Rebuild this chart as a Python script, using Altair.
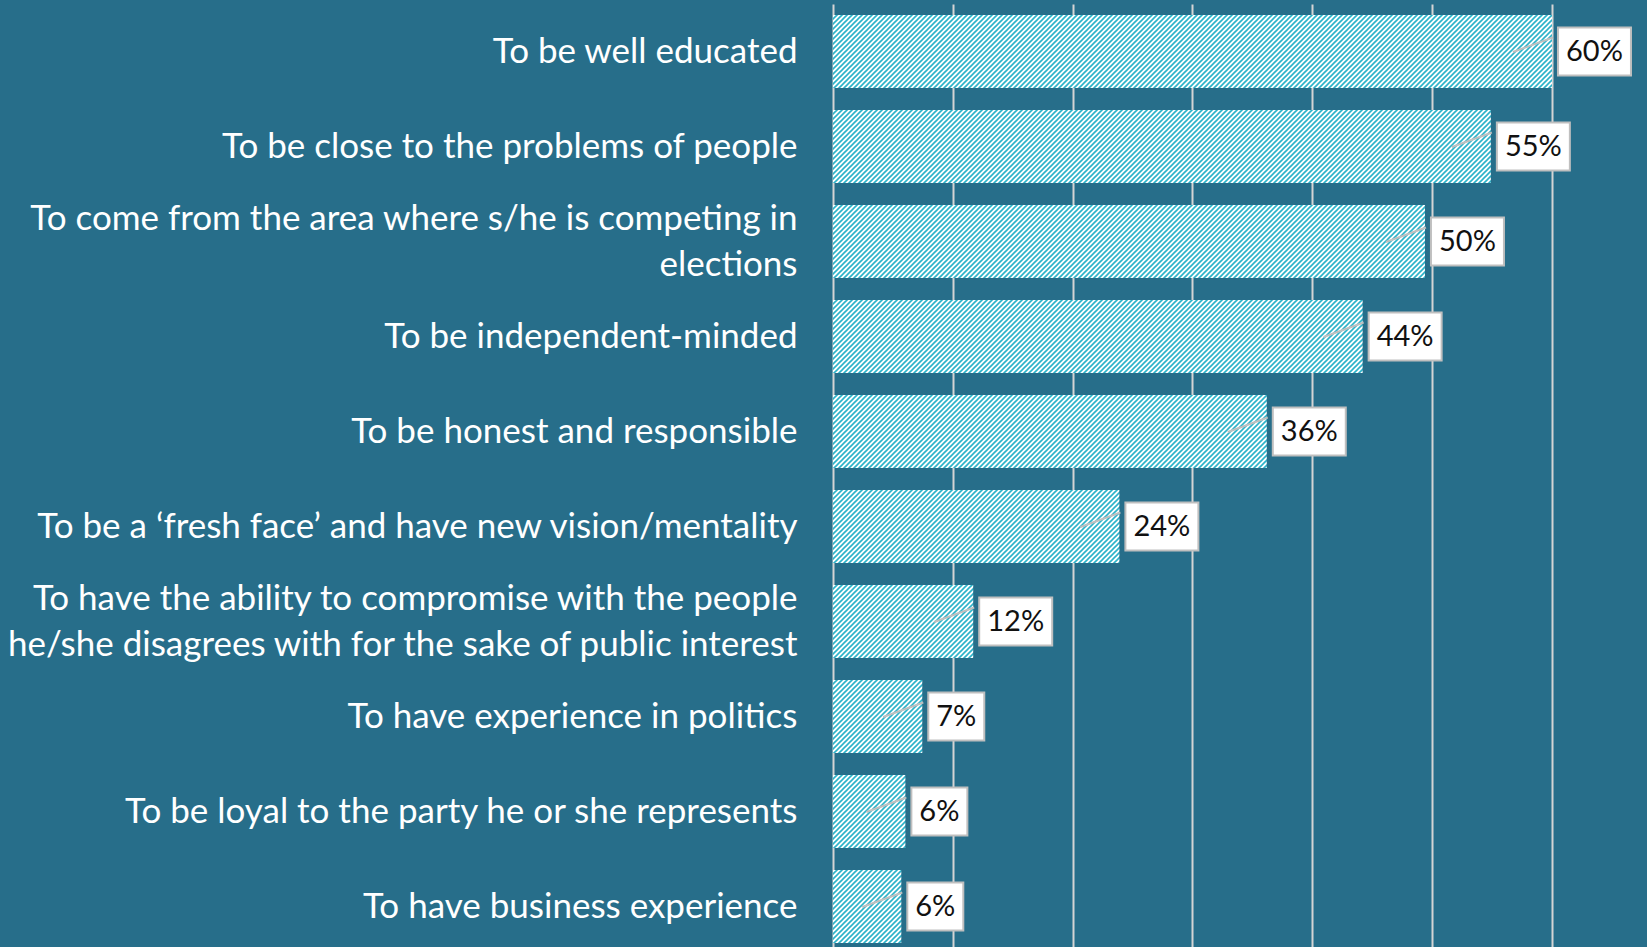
import altair as alt
import pandas as pd

categories = [
    "To be well educated",
    "To be close to the problems of people",
    "To come from the area where s/he is competing in\nelections",
    "To be independent-minded",
    "To be honest and responsible",
    "To be a \u2018fresh face\u2019 and have new vision/mentality",
    "To have the ability to compromise with the people\nhe/she disagrees with for the sake of public interest",
    "To have experience in politics",
    "To be loyal to the party he or she represents",
    "To have business experience",
]
values = [0.600, 0.549, 0.494, 0.442, 0.362, 0.239, 0.117, 0.0745, 0.0604, 0.057]
value_labels = ["60%", "55%", "50%", "44%", "36%", "24%", "12%", "7%", "6%", "6%"]
grid_ticks = [0, 0.1, 0.2, 0.3, 0.4, 0.5, 0.6]

BG = "#276E8A"
GRID = "#D4D4D4"
BOX_STROKE = "#BFBFBF"

df = pd.DataFrame({"cat": categories, "value": values, "label": value_labels})
df["digits"] = df["label"].str.len()

y_main = alt.Y(
    "cat:N",
    sort=categories,
    bandPosition=0.5,
    scale=alt.Scale(paddingInner=0.23, paddingOuter=0.115),
    axis=alt.Axis(
        title=None,
        labelExpr="split(datum.label, '\\n')",
        labelOffset={"expr": "indexof(datum.value, '\\n') >= 0 ? -23 : 0"},
        labelFont="Lato",
        labelFontSize=35,
        labelColor="white",
        labelPadding=36,
        labelLimit=2000,
        labelLineHeight=46,
        labelAlign="right",
        labelBaseline="middle",
        ticks=False,
        domain=False,
        grid=False,
    ),
)
x_main = alt.X(
    "value:Q",
    scale=alt.Scale(domain=[0, 0.6793], nice=False, zero=True),
    axis=alt.Axis(
        values=grid_ticks,
        labels=False,
        ticks=False,
        domain=False,
        grid=True,
        gridColor=GRID,
        gridWidth=2,
        title=None,
    ),
)
y_plain = alt.Y("cat:N", sort=categories, bandPosition=0.5)
x_plain = alt.X("value:Q")

base = alt.Chart(df)

bars = base.mark_bar(fill="url(#hatch) #C3E9EF").encode(x=x_main, y=y_main)

leaders = base.mark_rule(
    color=BOX_STROKE, strokeWidth=2, xOffset=-39, x2Offset=1, yOffset=0.5, y2Offset=-14
).encode(x=x_plain, x2=alt.X2("value"), y=y_plain, y2=alt.Y2("cat"))

box2 = base.transform_filter("datum.digits == 3").mark_bar(
    height=48, fill="white", stroke=BOX_STROKE, strokeWidth=2, xOffset=6, x2Offset=79
).encode(x=x_plain, x2=alt.X2("value"), y=y_plain)

box1 = base.transform_filter("datum.digits == 2").mark_bar(
    height=48, fill="white", stroke=BOX_STROKE, strokeWidth=2, xOffset=6, x2Offset=62
).encode(x=x_plain, x2=alt.X2("value"), y=y_plain)

text2 = base.transform_filter("datum.digits == 3").mark_text(
    font="Lato", fontSize=29, color="#111111", dx=42.5, align="center", baseline="middle"
).encode(x=x_plain, y=y_plain, text="label:N")

text1 = base.transform_filter("datum.digits == 2").mark_text(
    font="Lato", fontSize=29, color="#111111", dx=34, align="center", baseline="middle"
).encode(x=x_plain, y=y_plain, text="label:N")

chart = (
    alt.layer(bars, leaders, box2, box1, text2, text1)
    .properties(
        width=814,
        height=950,
        autosize=alt.AutoSizeParams(type="none"),
        padding={"left": 833, "top": 4, "right": 0, "bottom": 0},
        background=BG,
    )
    .configure_view(stroke=None)
)

TEMPLATE = """<!DOCTYPE html>
<html>
<head>
<meta charset="utf-8">
<style>
html, body { margin: 0; padding: 0; background: #276E8A; overflow: hidden; }
</style>
<script type="text/javascript" src="{{ base_url }}/vega@{{ vega_version }}"></script>
<script type="text/javascript" src="{{ base_url }}/vega-lite@{{ vegalite_version }}"></script>
<script type="text/javascript" src="{{ base_url }}/vega-embed@{{ vegaembed_version }}"></script>
</head>
<body>
<svg width="0" height="0" style="position:absolute">
  <defs>
    <pattern id="hatch" patternUnits="userSpaceOnUse" width="5" height="5">
      <rect width="5" height="5" fill="#ffffff"/>
      <path d="M-1,1 L1,-1 M0,5 L5,0 M4,6 L6,4" stroke="#2BB3C9" stroke-width="1.6"/>
    </pattern>
  </defs>
</svg>
<div id="{{ output_div }}"></div>
<script type="text/javascript">
  (function(vegaEmbed) {
    var spec = {{ spec }};
    var embedOpt = {{ embed_options }};
    var el = document.getElementById('{{ output_div }}');
    vegaEmbed("#{{ output_div }}", spec, embedOpt).catch(function(error) {
      el.innerHTML = '<div style="color:red;">' + error.message + '</div>';
    });
  })(vegaEmbed);
</script>
</body>
</html>
"""

try:
    import jinja2
    tpl = jinja2.Template(TEMPLATE)
    chart.save("out.html", embed_options={"renderer": "svg", "actions": False}, template=tpl)
except Exception:
    chart.save("out.html", embed_options={"renderer": "svg", "actions": False})
